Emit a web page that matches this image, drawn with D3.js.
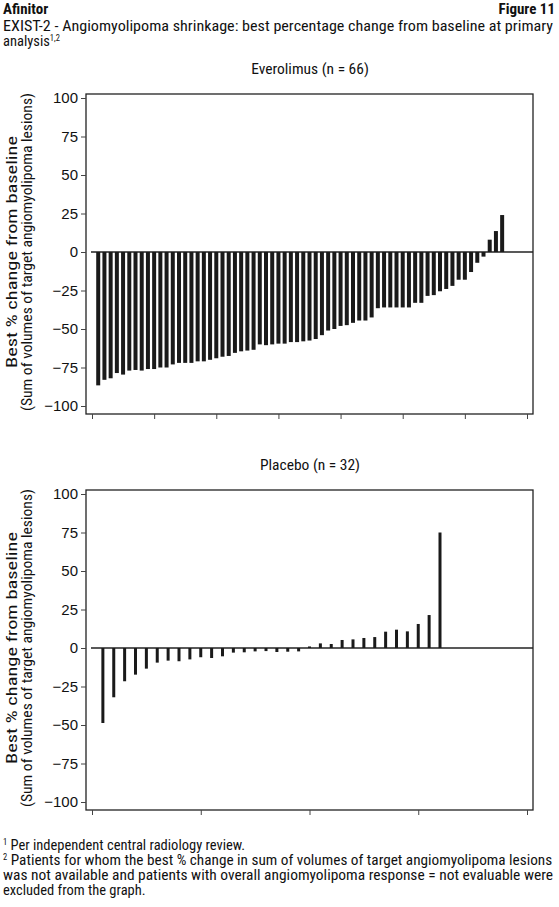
<!DOCTYPE html>
<html><head><meta charset="utf-8">
<script src="https://cdn.jsdelivr.net/npm/d3@7"></script>
<style>
body{margin:0;background:#fff;}
text{font-family:"Liberation Sans Narrow","Arial Narrow","Roboto Condensed",sans-serif;fill:#111;}
</style></head>
<body><div id="root"></div>
<script>
const everolimus = [-86.6,-83,-82,-78.6,-79.6,-77,-76.6,-77,-76,-76,-75,-75,-73,-72,-72,-72,-71,-71,-70,-69,-68,-67.5,-65.5,-64.5,-64,-63.5,-60,-60.5,-60,-59.5,-59.5,-58.5,-58.5,-58,-57.5,-56.5,
  -54,-51,-50,-48,-47.5,-46,-44.5,-44.5,-42.5,-36.5,-36,-36,-36,-36,-36,-33,-33,-28.5,-28,-25.5,-24,-22,-18,-18,-13,-7,-3,8,13.6,24];
const placebo = [-48.7,-32,-21.6,-17.3,-13.4,-9.5,-8.2,-8.6,-7.4,-6,-6.5,-5.4,-3,-2.8,-2.2,-2,-2.6,-2.4,-2.2,
  1,3,2.6,5.2,5.6,6.5,7.1,10.6,11.9,10.8,15.6,21.4,75];
const yTicks = [100,75,50,25,0,-25,-50,-75,-100];

const W = 559, H = 907;
const svg = d3.select('#root').append('svg').attr('width', W).attr('height', H);

svg.append('text').attr('x', 3).attr('y', 14).attr('font-size', 15).attr('font-weight', 'bold').text('Afinitor');
svg.append('text').attr('x', 555).attr('y', 14).attr('font-size', 15).attr('font-weight', 'bold').attr('text-anchor', 'end').text('Figure 11');
svg.append('text').attr('x', 3).attr('y', 31).attr('font-size', 14.5)
  .attr('textLength', 550).attr('lengthAdjust', 'spacingAndGlyphs')
  .text('EXIST-2 - Angiomyolipoma shrinkage: best percentage change from baseline at primary');
let t2 = svg.append('text').attr('x', 3).attr('y', 46).attr('font-size', 14.5).text('analysis');
t2.append('tspan').attr('font-size', 8.5).attr('dy', -5).text('1,2');

function panel(data, title, top, xMax, xTickStep, barW) {
  const left = 86, right = 533, bottom = top + 320;
  const y = d3.scaleLinear().domain([-100, 100]).range([top + 312, top + 4]);
  const x = d3.scaleLinear().domain([0, xMax]).range([92, 527]);
  const g = svg.append('g');

  g.append('text').attr('x', 310).attr('y', top - 20).attr('font-size', 15.5).attr('text-anchor', 'middle').text(title);

  g.append('rect').attr('x', left).attr('y', top).attr('width', right - left).attr('height', bottom - top)
    .attr('fill', 'none').attr('stroke', '#222').attr('stroke-width', 1.3);

  g.append('g').attr('transform', `translate(${left},0)`)
    .call(d3.axisLeft(y).tickValues(yTicks).tickSize(5).tickPadding(3))
    .call(a => a.select('.domain').remove())
    .call(a => a.selectAll('text').attr('font-size', 15).style('font-family', 'inherit'))
    .call(a => a.selectAll('line').attr('stroke', '#444'));

  g.append('g').attr('transform', `translate(0,${bottom})`)
    .call(d3.axisBottom(x).tickValues(d3.range(0, xMax + 1, xTickStep)).tickSize(5).tickFormat(''))
    .call(a => a.select('.domain').remove())
    .call(a => a.selectAll('line').attr('stroke', '#444'));

  g.append('line').attr('x1', x(0) - 1).attr('x2', right).attr('y1', y(0)).attr('y2', y(0))
    .attr('stroke', '#222').attr('stroke-width', 1.5);

  g.selectAll('.bar').data(data).enter().append('rect')
    .attr('x', (d, i) => x(i + 1) - barW / 2)
    .attr('y', d => y(Math.max(0, d)))
    .attr('width', barW)
    .attr('height', d => Math.abs(y(d) - y(0)))
    .attr('fill', '#1a1a1a');

  const cy = y(0);
  const lab = g.append('text').attr('transform', `translate(17,${cy}) rotate(-90)`).attr('font-size', 14.5).attr('text-anchor', 'middle');
  lab.append('tspan').attr('x', 0).attr('dy', 0).attr('textLength', 232).attr('lengthAdjust', 'spacingAndGlyphs').text('Best % change from baseline');
  lab.append('tspan').attr('x', 0).attr('dy', 15).attr('textLength', 318).attr('lengthAdjust', 'spacingAndGlyphs').text('(Sum of volumes of target angiomyolipoma lesions)');
}

panel(everolimus, 'Everolimus (n = 66)', 94, 70, 10, 4);
panel(placebo, 'Placebo (n = 32)', 490, 40, 10, 3);

const notes = [
  [['1', true], [' Per independent central radiology review.', false, 0]],
  [['2', true], [' Patients for whom the best % change in sum of volumes of target angiomyolipoma lesions', false, 545]],
  [['was not available and patients with overall angiomyolipoma response = not evaluable were', false, 550]],
  [['excluded from the graph.', false, 0]]
];
notes.forEach((parts, i) => {
  const t = svg.append('text').attr('x', 3).attr('y', 850 + i * 15).attr('font-size', 14.5);
  parts.forEach(([s, sup, len]) => {
    if (sup) t.append('tspan').attr('font-size', 8.5).attr('dy', -5).text(s);
    else {
      const sp = t.append('tspan').attr('dy', parts.length > 1 ? 5 : 0).text(s);
      if (len) sp.attr('textLength', len).attr('lengthAdjust', 'spacingAndGlyphs');
    }
  });
});
</script></body></html>
